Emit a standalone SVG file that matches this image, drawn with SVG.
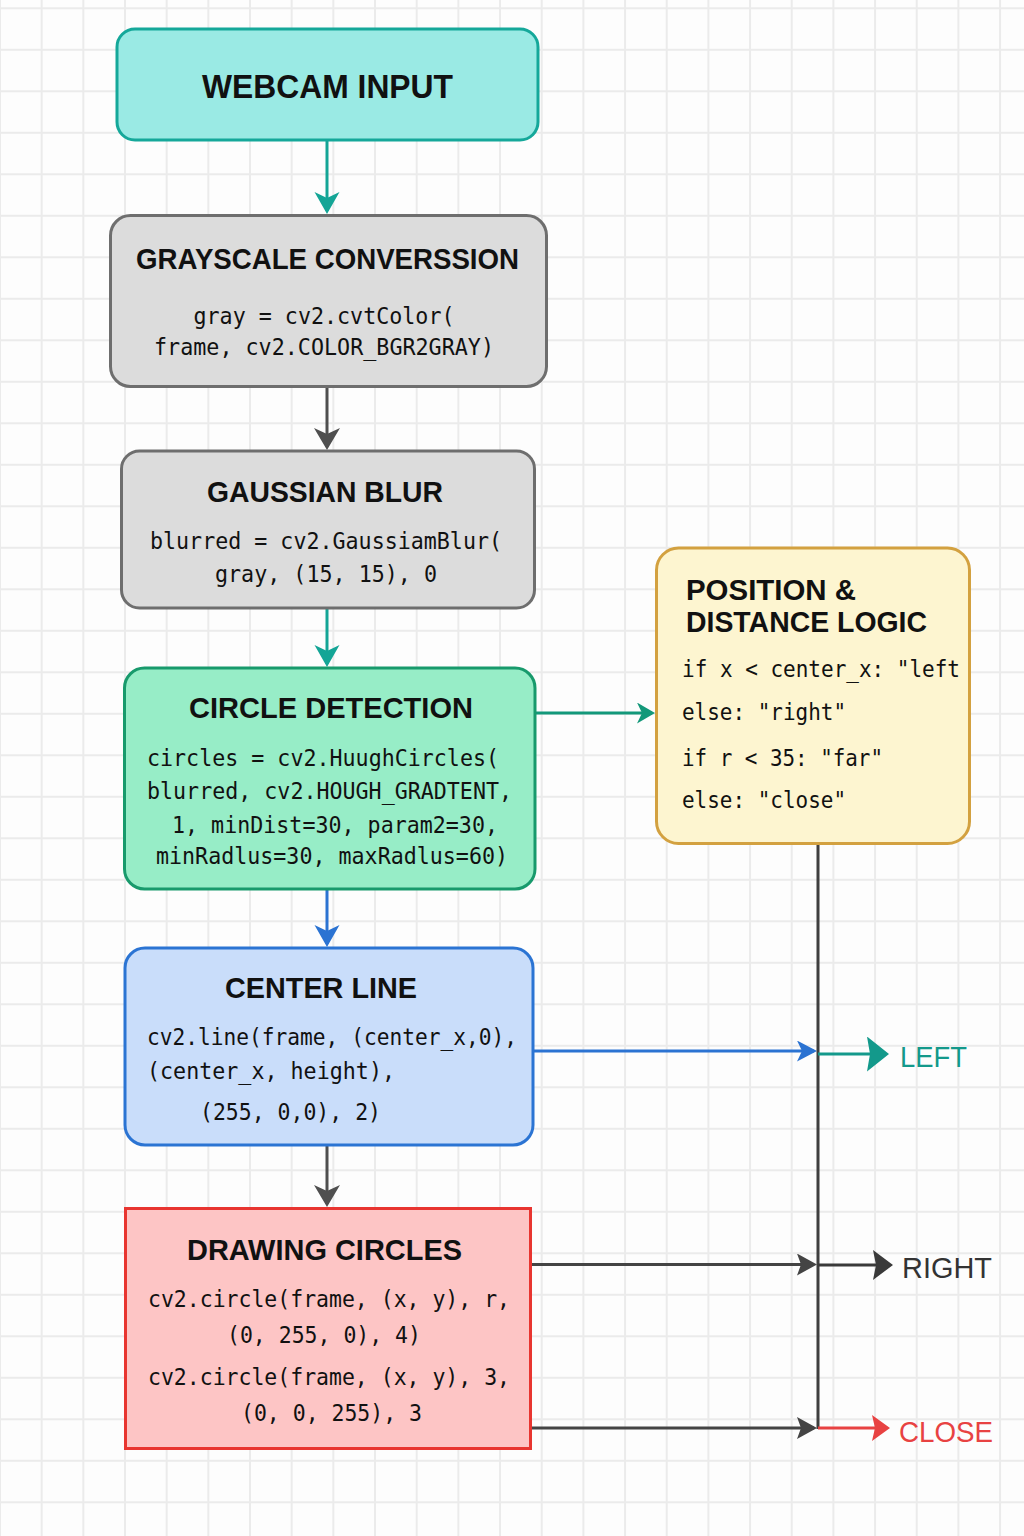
<svg xmlns="http://www.w3.org/2000/svg" width="1024" height="1536" viewBox="0 0 1024 1536">
  <style>
    .title { font-family: "Liberation Sans", Arial, sans-serif; font-weight: bold; font-size: 30px; fill: #111; }
    .code { font-family: "DejaVu Sans Mono", "Liberation Mono", monospace; font-size: 23px; fill: #111; }
    .code2 { font-family: "DejaVu Sans Mono", "Liberation Mono", monospace; font-size: 22.5px; fill: #111; }
    .out { font-family: "Liberation Sans", Arial, sans-serif; font-size: 30px; }
    .ln { fill: none; stroke-width: 3; }
  </style>
  <defs>
    <pattern id="grid" width="41.67" height="41.5" patternUnits="userSpaceOnUse" patternTransform="translate(-1 7.3)">
      <path d="M1,0 V41.5 M0,1 H41.67" stroke="#ebebeb" stroke-width="2" fill="none"/>
    </pattern>
    <marker id="ah-teal" markerUnits="userSpaceOnUse" markerWidth="24" markerHeight="26" refX="19" refY="12.5" orient="auto">
      <path d="M0,0 L22,12.5 L0,25 L6,12.5 Z" fill="#14a596"/>
    </marker>
    <marker id="ah-gray" markerUnits="userSpaceOnUse" markerWidth="24" markerHeight="28" refX="19" refY="13" orient="auto">
      <path d="M0,0 L22,13 L0,26 L6,13 Z" fill="#4f4f4f"/>
    </marker>
    <marker id="ah-green" markerUnits="userSpaceOnUse" markerWidth="20" markerHeight="22" refX="15" refY="10.5" orient="auto">
      <path d="M0,0 L18,10.5 L0,21 L5,10.5 Z" fill="#13987a"/>
    </marker>
    <marker id="ah-blue" markerUnits="userSpaceOnUse" markerWidth="24" markerHeight="26" refX="19" refY="12.5" orient="auto">
      <path d="M0,0 L22,12.5 L0,25 L6,12.5 Z" fill="#2b73d2"/>
    </marker>
    <marker id="ah-blue-s" markerUnits="userSpaceOnUse" markerWidth="22" markerHeight="22" refX="17" refY="10.5" orient="auto">
      <path d="M0,0 L20,10.5 L0,21 L5,10.5 Z" fill="#2b73d2"/>
    </marker>
    <marker id="ah-dark" markerUnits="userSpaceOnUse" markerWidth="22" markerHeight="24" refX="17" refY="11" orient="auto">
      <path d="M0,0 L20,11 L0,22 L4,11 Z" fill="#444"/>
    </marker>
    <marker id="ah-left" markerUnits="userSpaceOnUse" markerWidth="24" markerHeight="36" refX="19" refY="17.5" orient="auto">
      <path d="M0,0 L22,17.5 L0,35 L3,17.5 Z" fill="#13998b"/>
    </marker>
    <marker id="ah-right" markerUnits="userSpaceOnUse" markerWidth="22" markerHeight="31" refX="17" refY="15" orient="auto">
      <path d="M0,0 L20,15 L0,30 L3,15 Z" fill="#3a3a3a"/>
    </marker>
    <marker id="ah-red" markerUnits="userSpaceOnUse" markerWidth="20" markerHeight="27" refX="15" refY="13" orient="auto">
      <path d="M0,0 L18,13 L0,26 L3,13 Z" fill="#e84242"/>
    </marker>
  </defs>

  <rect x="0" y="0" width="1024" height="1536" fill="#fdfdfd"/>
  <rect x="0" y="0" width="1024" height="1536" fill="url(#grid)"/>

  <g id="connectors">
    <line class="ln" x1="327" y1="140" x2="327" y2="211" stroke="#14a596" marker-end="url(#ah-teal)"/>
    <line class="ln" x1="327" y1="387" x2="327" y2="447" stroke="#4f4f4f" marker-end="url(#ah-gray)"/>
    <line class="ln" x1="327" y1="608" x2="327" y2="664" stroke="#14a596" marker-end="url(#ah-teal)"/>
    <line class="ln" x1="535" y1="713" x2="652" y2="713" stroke="#13987a" marker-end="url(#ah-green)"/>
    <line class="ln" x1="327" y1="889" x2="327" y2="944" stroke="#2b73d2" marker-end="url(#ah-blue)"/>
    <line class="ln" x1="327" y1="1145" x2="327" y2="1204" stroke="#4f4f4f" marker-end="url(#ah-gray)"/>
    <line class="ln" x1="533" y1="1051" x2="814" y2="1051" stroke="#2b73d2" stroke-width="3.5" marker-end="url(#ah-blue-s)"/>
    <line class="ln" x1="531" y1="1264.5" x2="814" y2="1264.5" stroke="#444" stroke-width="3.5" marker-end="url(#ah-dark)"/>
    <line class="ln" x1="531" y1="1428" x2="814" y2="1428" stroke="#444" stroke-width="3.5" marker-end="url(#ah-dark)"/>
    <line class="ln" x1="818" y1="844" x2="818" y2="1429" stroke="#3f3f3f"/>
    <line class="ln" x1="818" y1="1054" x2="886" y2="1054" stroke="#13998b" stroke-width="4.5" marker-end="url(#ah-left)"/>
    <line class="ln" x1="818" y1="1265" x2="890" y2="1265" stroke="#3a3a3a" stroke-width="3.5" marker-end="url(#ah-right)"/>
    <line class="ln" x1="818" y1="1428" x2="887" y2="1428" stroke="#e84242" stroke-width="3.5" marker-end="url(#ah-red)"/>
  </g>

  <g id="webcam-input">
    <rect x="117" y="29" width="421" height="111" rx="18" fill="#9aeae4" stroke="#15a89a" stroke-width="3"/>
    <text class="title" x="202" y="98" style="font-size:34px" textLength="251" lengthAdjust="spacingAndGlyphs">WEBCAM INPUT</text>
  </g>

  <g id="grayscale">
    <rect x="110.5" y="215.5" width="436" height="171" rx="20" fill="#dcdcdc" stroke="#6e6e6e" stroke-width="3"/>
    <text class="title" x="136" y="269" textLength="383" lengthAdjust="spacingAndGlyphs">GRAYSCALE CONVERSSION</text>
    <text class="code" x="324" y="324" text-anchor="middle" textLength="261" lengthAdjust="spacingAndGlyphs">gray = cv2.cvtColor(</text>
    <text class="code" x="324" y="355" text-anchor="middle" textLength="340" lengthAdjust="spacingAndGlyphs">frame, cv2.COLOR_BGR2GRAY)</text>
  </g>

  <g id="gaussian-blur">
    <rect x="121.5" y="451" width="413" height="157" rx="18" fill="#dcdcdc" stroke="#6e6e6e" stroke-width="3"/>
    <text class="title" x="207" y="502" textLength="236" lengthAdjust="spacingAndGlyphs">GAUSSIAN BLUR</text>
    <text class="code" x="326" y="549" text-anchor="middle" textLength="352" lengthAdjust="spacingAndGlyphs">blurred = cv2.GaussiamBlur(</text>
    <text class="code" x="326" y="582" text-anchor="middle" textLength="222" lengthAdjust="spacingAndGlyphs">gray, (15, 15), 0</text>
  </g>

  <g id="circle-detection">
    <rect x="124.5" y="668" width="410.5" height="221" rx="20" fill="#97edc7" stroke="#189a6c" stroke-width="3"/>
    <text class="title" x="189" y="718" textLength="284" lengthAdjust="spacingAndGlyphs">CIRCLE DETECTION</text>
    <text class="code" x="147" y="766" textLength="352" lengthAdjust="spacingAndGlyphs">circles = cv2.HuughCircles(</text>
    <text class="code" x="147" y="799" textLength="365" lengthAdjust="spacingAndGlyphs">blurred, cv2.HOUGH_GRADTENT,</text>
    <text class="code" x="172" y="833" textLength="326" lengthAdjust="spacingAndGlyphs">1, minDist=30, param2=30,</text>
    <text class="code" x="156" y="864" textLength="352" lengthAdjust="spacingAndGlyphs">minRadlus=30, maxRadlus=60)</text>
  </g>

  <g id="center-line">
    <rect x="125" y="948" width="408" height="197" rx="20" fill="#c9ddfa" stroke="#2b74d3" stroke-width="3"/>
    <text class="title" x="225" y="998" textLength="192" lengthAdjust="spacingAndGlyphs">CENTER LINE</text>
    <text class="code" x="147" y="1045" textLength="370" lengthAdjust="spacingAndGlyphs">cv2.line(frame, (center_x,0),</text>
    <text class="code" x="147" y="1079" textLength="248" lengthAdjust="spacingAndGlyphs">(center_x, height),</text>
    <text class="code" x="200" y="1120" textLength="181" lengthAdjust="spacingAndGlyphs">(255, 0,0), 2)</text>
  </g>

  <g id="drawing-circles">
    <rect x="125.5" y="1208.5" width="405" height="240" fill="#fdc5c5" stroke="#e83530" stroke-width="3"/>
    <text class="title" x="187" y="1260" textLength="275" lengthAdjust="spacingAndGlyphs">DRAWING CIRCLES</text>
    <text class="code" x="148" y="1307" textLength="362" lengthAdjust="spacingAndGlyphs">cv2.circle(frame, (x, y), r,</text>
    <text class="code" x="227" y="1343" textLength="194" lengthAdjust="spacingAndGlyphs">(0, 255, 0), 4)</text>
    <text class="code" x="148" y="1385" textLength="362" lengthAdjust="spacingAndGlyphs">cv2.circle(frame, (x, y), 3,</text>
    <text class="code" x="241" y="1421" textLength="181" lengthAdjust="spacingAndGlyphs">(0, 0, 255), 3</text>
  </g>

  <g id="position-distance-logic">
    <rect x="656.5" y="548" width="313" height="295.5" rx="22" fill="#fdf5d0" stroke="#d3a140" stroke-width="3"/>
    <text class="title" x="686" y="600" style="font-size:29px" textLength="170" lengthAdjust="spacingAndGlyphs">POSITION &amp;</text>
    <text class="title" x="686" y="632" style="font-size:29px" textLength="241" lengthAdjust="spacingAndGlyphs">DISTANCE LOGIC</text>
    <text class="code2" x="682" y="677" textLength="278" lengthAdjust="spacingAndGlyphs">if x &lt; center_x: "left</text>
    <text class="code2" x="682" y="720" textLength="164" lengthAdjust="spacingAndGlyphs">else: "right"</text>
    <text class="code2" x="682" y="766" textLength="201" lengthAdjust="spacingAndGlyphs">if r &lt; 35: "far"</text>
    <text class="code2" x="682" y="808" textLength="164" lengthAdjust="spacingAndGlyphs">else: "close"</text>
  </g>

  <g id="out-left">
    <text class="out" x="900" y="1067" fill="#13998b" textLength="67" lengthAdjust="spacingAndGlyphs">LEFT</text>
  </g>
  <g id="out-right">
    <text class="out" x="902" y="1278" fill="#333" textLength="90" lengthAdjust="spacingAndGlyphs">RIGHT</text>
  </g>
  <g id="out-close">
    <text class="out" x="899" y="1442" fill="#e84242" textLength="94" lengthAdjust="spacingAndGlyphs">CLOSE</text>
  </g>
</svg>
